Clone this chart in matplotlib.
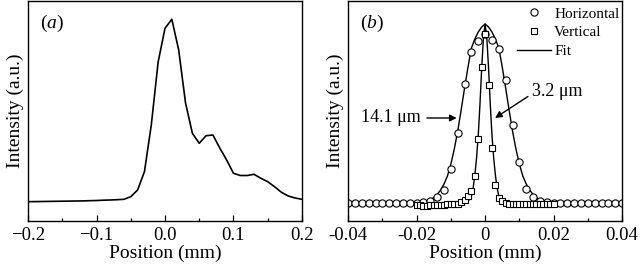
import numpy as np
import matplotlib
matplotlib.use('Agg')
import matplotlib.pyplot as plt
from matplotlib.lines import Line2D
from matplotlib.ticker import MultipleLocator

plt.rcParams['font.family'] = ['Liberation Serif', 'DejaVu Serif']
plt.rcParams['mathtext.fontset'] = 'custom'
plt.rcParams['mathtext.rm'] = 'Liberation Serif'
plt.rcParams['mathtext.it'] = 'Liberation Serif:italic'

# (a) профиль пучка, мм / отн. ед.
pos_a = np.round(np.arange(-0.2, 0.2001, 0.01), 3)
int_a = np.array([19.3, 19.4, 19.5, 19.6, 19.7, 19.8, 19.9, 20.0, 20.1, 20.3,
                  20.5, 20.8, 21.0, 21.3, 21.7,
                  24.3, 31.0, 49.3, 96.0, 159.0,
                  192.7, 201.7, 171.0, 118.0, 87.7, 77.7, 85.3, 86.0, 73.0, 61.0,
                  47.7, 45.5, 45.5, 46.7, 42.7, 39.3, 34.3, 28.7, 25.0, 23.0,
                  21.7])

# (b) горизонтальный профиль
pos_h = np.round(np.arange(-0.04, 0.0401, 0.002), 3)
int_h = np.array([18.0, 18.0, 18.0, 18.0, 18.0, 18.0, 18.0, 18.0, 18.0, 18.0,
                  18.0, 18.5, 19.5, 23.7, 31.0, 51.7, 88.3, 136.7, 169.3, 180.0,
                  187.0,
                  181.0, 171.7, 141.0, 96.0, 58.7, 32.0, 23.7, 19.5, 18.5, 18.0,
                  18.0, 18.0, 18.0, 18.0, 18.0, 18.0, 18.0, 18.0, 18.0, 18.0])

# (b) вертикальный профиль
pos_v = np.round(np.arange(-0.02, 0.0201, 0.001), 3)
int_v = np.array([15.5, 15.5, 14.5, 14.5, 15.5, 16.0, 16.0, 16.0, 16.0, 16.5,
                  16.5, 16.5, 17.0, 19.0, 21.0, 25.0, 30.0, 45.0, 82.0, 153.7,
                  186.7,
                  136.0, 72.7, 36.0, 22.7, 19.5, 18.0, 17.0, 17.0, 17.0, 17.0,
                  17.0, 17.0, 17.0, 17.0, 17.0, 17.0, 17.0, 17.0, 17.0, 17.0])

# (b) аппроксимация
fit_h_x = np.array([-0.04, -0.02, -0.018, -0.016, -0.015, -0.014, -0.013, -0.012, -0.011,
                    -0.01, -0.009, -0.008, -0.007, -0.006, -0.005, -0.004, -0.003,
                    -0.002, -0.001, 0.0, 0.001, 0.002, 0.003, 0.004, 0.005, 0.006,
                    0.007, 0.008, 0.009, 0.01, 0.011, 0.012, 0.013, 0.014, 0.015,
                    0.016, 0.018, 0.02, 0.04])
fit_h_y = np.array([18.0, 18.0, 18.5, 21.0, 23.5, 26.5, 31.0, 37.0, 45.0,
                    57.0, 72.0, 90.0, 111.0, 133.0, 154.0, 173.0, 182.0,
                    189.0, 194.0, 197.0, 194.0, 189.0, 182.0, 173.0, 154.0, 133.0,
                    111.0, 90.0, 72.0, 57.0, 45.0, 37.0, 31.0, 26.5, 23.5,
                    21.0, 18.5, 18.0, 18.0])
fit_v_x = np.array([-0.04, -0.008, -0.006, -0.005, -0.004, -0.0035, -0.003, -0.0025,
                    -0.002, -0.0015, -0.001, -0.0005, 0.0, 0.0005, 0.001, 0.0015,
                    0.002, 0.0025, 0.003, 0.0035, 0.004, 0.005, 0.006, 0.008, 0.04])
fit_v_y = np.array([17.0, 17.0, 18.0, 19.5, 25.0, 33.0, 46.0, 63.0,
                    86.0, 117.0, 153.0, 183.0, 197.0, 183.0, 153.0, 117.0,
                    86.0, 63.0, 46.0, 33.0, 25.0, 19.5, 18.0, 17.0, 17.0])

fig = plt.figure(figsize=(6.4, 2.71), dpi=100)
ax1 = fig.add_axes([0.0438, 0.1845, 0.428, 0.81])
ax2 = fig.add_axes([0.544, 0.1845, 0.428, 0.81])

ax1.plot(pos_a, int_a, color='k', lw=1.2)
ax1.set_xlim(-0.2, 0.2)
ax1.xaxis.set_major_locator(MultipleLocator(0.1))
ax1.xaxis.set_minor_locator(MultipleLocator(0.05))
ax1.text(0.045, 0.90, r'($\it{a}$)', transform=ax1.transAxes, fontsize=14, va='center')

ax2.plot(fit_h_x, fit_h_y, color='k', lw=1.0)
ax2.plot(fit_v_x, fit_v_y, color='k', lw=1.0)
ax2.plot(pos_h, int_h, 'o', ms=5.2, mfc='white', mec='k', mew=0.8)
ax2.plot(pos_v, int_v, 's', ms=4.3, mfc='white', mec='k', mew=0.8)
ax2.set_xlim(-0.04, 0.04)
ax2.xaxis.set_major_locator(MultipleLocator(0.02))
ax2.xaxis.set_minor_locator(MultipleLocator(0.01))
ax2.set_xticks([-0.04, -0.02, 0, 0.02, 0.04])
ax2.set_xticklabels(['-0.04', '-0.02', '0', '0.02', '0.04'])
ax2.text(0.045, 0.90, r'($\it{b}$)', transform=ax2.transAxes, fontsize=14, va='center')

arr = dict(arrowstyle='-|>', color='k', lw=1.0, mutation_scale=10, shrinkA=0, shrinkB=0)
ax2.annotate('', xy=(-0.0083, 103), xytext=(-0.0170, 103), arrowprops=arr)
ax2.text(-0.0189, 103, '14.1 μm', fontsize=13, ha='right', va='center')
ax2.annotate('', xy=(0.0029, 103), xytext=(0.0125, 124.5), arrowprops=arr)
ax2.text(0.0136, 129.5, '3.2 μm', fontsize=13, ha='left', va='center')

handles = [Line2D([], [], ls='none', marker='o', ms=5.2, mfc='white', mec='k', mew=0.8),
           Line2D([], [], ls='none', marker='s', ms=4.3, mfc='white', mec='k', mew=0.8),
           Line2D([], [], color='k', lw=1.0)]
ax2.legend(handles, ['Horizontal', 'Vertical', 'Fit'], loc='upper right', frameon=False,
           fontsize=11, handlelength=2.2, handletextpad=0.2, labelspacing=0.33,
           borderaxespad=0.0, borderpad=0.0, bbox_to_anchor=(0.99, 0.975))

for ax in (ax1, ax2):
    ax.set_ylim(0, 219.5)
    ax.set_yticks([])
    ax.set_xlabel('Position (mm)', fontsize=14, labelpad=1)
    ax.set_ylabel('Intensity (a.u.)', fontsize=14, labelpad=3)
    ax.tick_params(axis='x', which='major', direction='in', length=4, width=0.9,
                   labelsize=13.5, pad=4)
    ax.tick_params(axis='x', which='minor', direction='in', length=2, width=0.9)
    for s in ax.spines.values():
        s.set_linewidth(1.0)

fig.savefig('out.png', dpi=100)
